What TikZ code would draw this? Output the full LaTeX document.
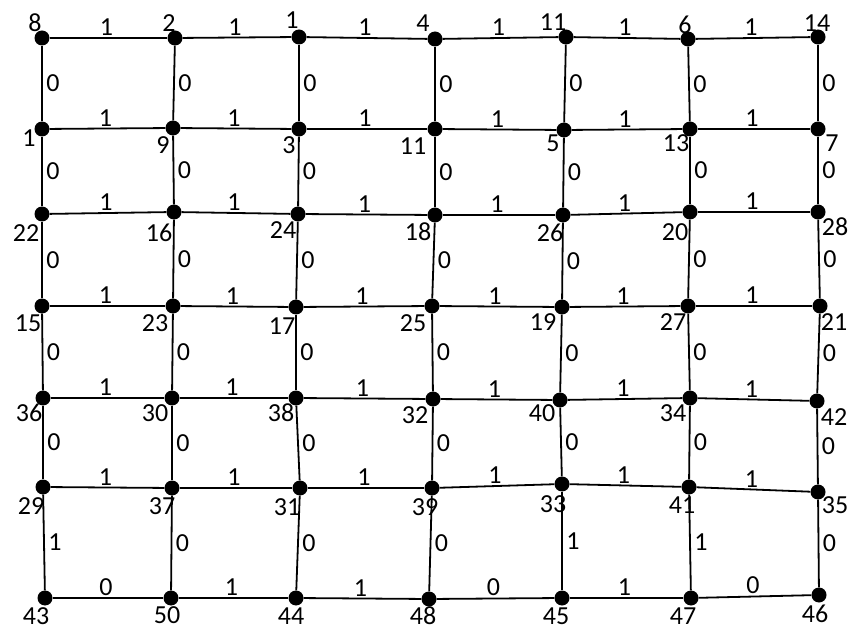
\documentclass[tikz,border=0pt]{standalone}
\usepackage{fontspec}
\setmainfont{Carlito}

\tikzset{
  vertice/.style={circle, fill=black, minimum size=15pt, inner sep=0pt},
  etiq/.style={inner sep=0pt, font=\fontsize{26}{30}\selectfont},
  peso/.style={inner sep=1.5pt, font=\fontsize{26}{30}\selectfont},
  pesov/.style={peso, inner sep=3.5pt},
  arista/.style={line width=1.8pt}
}

\begin{document}
\begin{tikzpicture}[x=1pt,y=-1pt]
\useasboundingbox (0,0) rectangle (855,631);

% Vertices
	\foreach \r/\c/\x/\y/\txt/\lx/\ly in {
		1/1/42/38/8/35/23, 1/2/175/38/2/169/23, 1/3/299/37/1/292/20, 1/4/435/39/4/423/23,
		1/5/566/37/11/553/22, 1/6/688/39/6/685/25, 1/7/818/37/14/817/23,
		2/1/42/129/1/29/138, 2/2/173/128/9/163/145, 2/3/299/129/3/289/145, 2/4/435/129/11/413/146,
		2/5/564/130/5/553/143, 2/6/690/129/13/676/143, 2/7/818/129/7/832/143,
		3/1/42/214/22/26/233, 3/2/174/212/16/159/233, 3/3/298/214/24/283/230, 3/4/435/215/18/418/232,
		3/5/563/215/26/550/233, 3/6/690/212/20/675/232, 3/7/818/212/28/835/227,
		4/1/42/306/15/28/323, 4/2/173/306/23/155/323, 4/3/296/307/17/282/326, 4/4/432/306/25/413/323,
		4/5/562/307/19/543/322, 4/6/688/306/27/673/322, 4/7/820/306/21/834/322,
		5/1/43/398/36/29/413, 5/2/172/398/30/155/413, 5/3/296/398/38/281/413, 5/4/433/399/32/415/415,
		5/5/560/400/40/542/413, 5/6/690/398/34/673/413, 5/7/817/401/42/834/417,
		6/1/43/487/29/31/506, 6/2/172/488/37/162/506, 6/3/300/488/31/287/507, 6/4/432/488/39/425/507,
		6/5/562/484/33/553/504, 6/6/689/487/41/682/505, 6/7/818/492/35/835/505,
		7/1/45/598/43/36/616, 7/2/171/598/50/167/615, 7/3/296/598/44/291/616, 7/4/429/599/48/423/616,
		7/5/562/598/45/556/616, 7/6/691/598/47/683/616, 7/7/819/595/46/815/614}
	{
		\node[vertice] (v\r\c) at (\x,\y) {};
		\node[etiq] (t\r\c) at (\lx,\ly) {\txt};
	}

% Aristas horizontales
	\foreach \r in {1, 2, ..., 6}
		\foreach \c [count=\d from 2] in {1, 2, ..., 6}
			\draw[arista] (v\r\c) -- (v\r\d) node[peso, midway, above, xshift=-2pt] {1};

	\foreach \c/\w [count=\d from 2] in {1/0, 2/1, 3/1, 4/0, 5/1, 6/0}
		\draw[arista] (v7\c) -- (v7\d) node[peso, midway, above, xshift=-2pt] {\w};

% Aristas verticales
	\foreach \r [count=\s from 2] in {1, 2, ..., 5}
		\foreach \c in {1, 2, ..., 7}
			\draw[arista] (v\r\c) -- (v\s\c) node[pesov, midway, right] {0};

	\foreach \c/\w in {1/1, 2/0, 3/0, 4/0, 5/1, 6/1, 7/0}
		\draw[arista] (v6\c) -- (v7\c) node[pesov, midway, right] {\w};
\end{tikzpicture}
\end{document}
